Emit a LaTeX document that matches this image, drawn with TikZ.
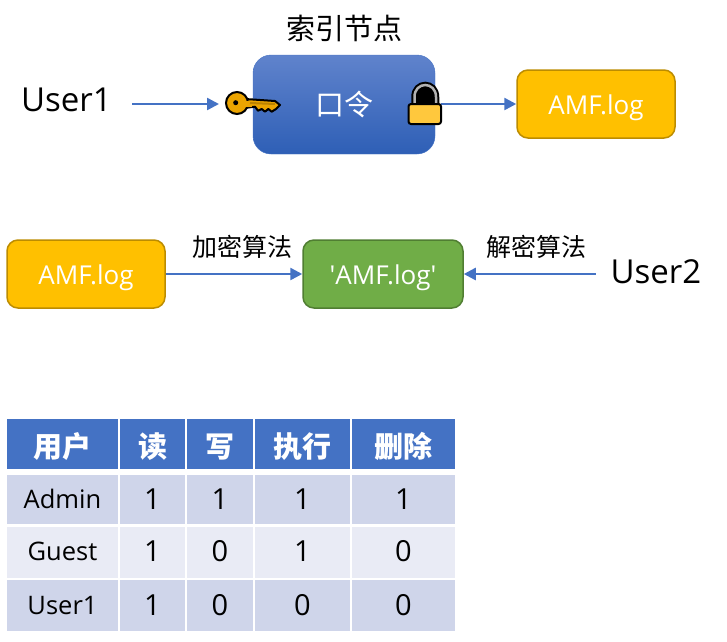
\documentclass[tikz,border=0pt]{standalone}
\usepackage{fontspec}
\setmainfont{Open Sans}
\newfontfamily\cjk{Noto Sans CJK SC}
\usepackage{xcolor}
\usetikzlibrary{arrows.meta}
\definecolor{arrowblue}{HTML}{4472C4}
\definecolor{inodetop}{HTML}{6083CC}
\definecolor{inodebottom}{HTML}{2E5FB6}
\definecolor{amfyellow}{HTML}{FFC000}
\definecolor{amfedge}{HTML}{BC8C00}
\definecolor{amfgreen}{HTML}{70AD47}
\definecolor{greenedge}{HTML}{507E32}
\definecolor{rowdark}{HTML}{CFD5EA}
\definecolor{rowlight}{HTML}{E9EBF5}
\definecolor{keygold}{HTML}{EBA400}
\definecolor{lockgold}{HTML}{FFC83D}
\tikzstyle{link}=[draw=arrowblue, line width=2.5pt, -{Triangle[length=12pt,width=12pt]}]
\tikzstyle{file}=[rounded corners=11pt, line width=1.5pt, minimum width=158pt, minimum height=68pt, inner sep=0pt, text=white, text height=20pt, text depth=0pt, font=\fontsize{26}{26}\selectfont]
\tikzstyle{yellowfile}=[file, fill=amfyellow, draw=amfedge]
\tikzstyle{greenfile}=[file, fill=amfgreen, draw=greenedge, minimum width=160pt]
\tikzstyle{user}=[inner ysep=0pt, text=black, font=\fontsize{33}{33}\selectfont]
\tikzstyle{algo}=[above, inner sep=0pt, yshift=14pt, font=\fontsize{25}{25}\selectfont\cjk]
\tikzstyle{head}=[fill=arrowblue, text=white, inner sep=0pt, text height=26pt, text depth=0pt, font=\fontsize{29}{29}\selectfont\bfseries\cjk]
\tikzstyle{namecell}=[inner sep=0pt, text=black, text height=17pt, text depth=0pt, font=\fontsize{25.5}{25.5}\selectfont]
\tikzstyle{numcell}=[inner sep=0pt, text=black, text height=19pt, text depth=0pt, font=\fontsize{29}{29}\selectfont]
\begin{document}
\begin{tikzpicture}[x=1pt,y=-1pt]
\useasboundingbox (0,0) rectangle (727,641);
% top row
\node[user, inner xsep=20pt] (user1) at (66.5,100) {User1};
\coordinate (keytip) at (219,104);
\node[rounded corners=18pt, draw=arrowblue, top color=inodetop, bottom color=inodebottom, minimum width=182pt, minimum height=99pt, inner sep=0pt, text=white, font=\fontsize{29}{29}\selectfont\cjk] (inode) at (344,104.5) {口令};
\node[inner sep=0pt, font=\fontsize{29}{29}\selectfont\cjk] (title) at (344,28) {索引节点};
\node[yellowfile] (amf1) at (596,104) {AMF.log};
\coordinate (lock) at (441,104);
\draw[link] (user1.east |- keytip) -- (keytip);
\draw[link] (lock) -- (amf1.west);
% key
\draw[black, line width=2pt, fill=keygold, line join=round] (244,99) -- (250,99.3) -- (275,101) -- (280,105) -- (276,109) -- (271.7,111.7) -- (268.3,109) -- (265,111.7) -- (261.7,109) -- (258,110.7) -- (255,106.7) -- (244,108) -- cycle;
\draw[black, line width=2pt, fill=keygold] (237,103) circle (11);
\fill[keygold] (243,100.5) rectangle (252,106.5);
\draw[keygold!80!black, line width=2pt] (250,103) -- (275,104);
\fill[black] (235.7,102.7) circle (2.5);
% lock
\draw[black, line width=6.5pt, fill=black] (414.5,106) -- (414.5,97) .. controls (414.5,81) and (436,81) .. (436,97) -- (436,106) -- cycle;
\draw[black!30, line width=2.5pt] (414.5,104) -- (414.5,97) .. controls (414.5,81) and (436,81) .. (436,97) -- (436,104);
\draw[black, line width=2pt, fill=lockgold, rounded corners=2.5pt] (408.5,104) rectangle (441,124);
% middle row
\node[yellowfile] (amf2) at (86,274) {AMF.log};
\node[greenfile] (enc) at (383,274) {\textquotesingle AMF.log\textquotesingle};
\node[user, inner xsep=15pt] (user2) at (656,272) {User2};
\draw[link] (amf2.east) -- node[algo, xshift=8pt] {加密算法} (enc.west);
\draw[link] (user2.west |- enc) -- node[algo, xshift=7pt] {解密算法} (enc.east);
% table
\foreach \col/\cx/\cw/\cs/\ttop/\tone/\ttwo/\tthree in {user/62.5/111/namecell/用户/Admin/Guest/User1, read/152.5/65/numcell/读/1/1/1, write/220/65.5/numcell/写/1/0/0, exec/302.5/95/numcell/执行/1/1/0, del/403.5/103/numcell/删除/1/0/0} {
	\node[head, minimum width=\cw pt, minimum height=50pt] (\col0) at (\cx,444) {\ttop};
	\node[\cs, fill=rowdark, minimum width=\cw pt, minimum height=49pt] (\col1) at (\cx,499.5) {\tone};
	\node[\cs, fill=rowlight, minimum width=\cw pt, minimum height=51.5pt] (\col2) at (\cx,552.25) {\ttwo};
	\node[\cs, fill=rowdark, minimum width=\cw pt, minimum height=51pt] (\col3) at (\cx,605.5) {\tthree};
}
\end{tikzpicture}
\end{document}
